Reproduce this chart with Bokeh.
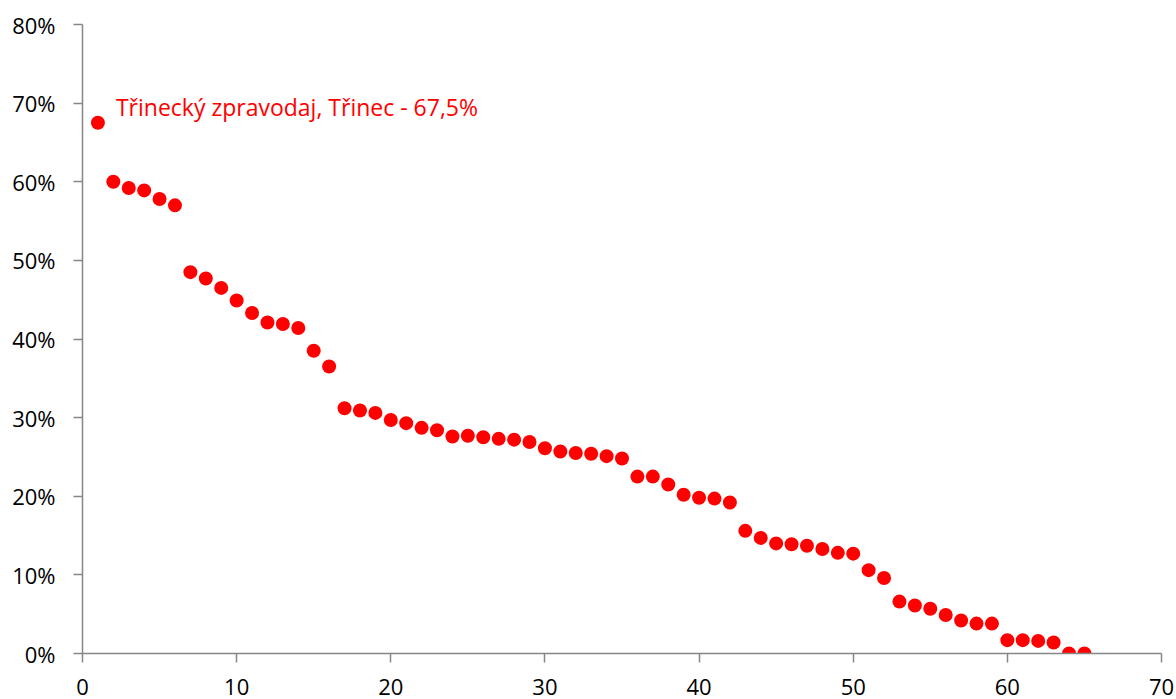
from bokeh.plotting import figure
from bokeh.models import ColumnDataSource, Range1d, NumeralTickFormatter, FixedTicker
from bokeh.core.properties import value
from bokeh.embed import file_html
from bokeh.resources import INLINE

# Data
rank = list(range(1, 66))
share = [
    67.5, 60.0, 59.2, 58.9, 57.8, 57.0, 48.5, 47.7, 46.5, 44.9,
    43.3, 42.1, 41.9, 41.4, 38.5, 36.5, 31.2, 30.9, 30.6, 29.7,
    29.3, 28.7, 28.4, 27.6, 27.7, 27.5, 27.3, 27.2, 26.9, 26.1,
    25.7, 25.5, 25.4, 25.1, 24.8, 22.5, 22.5, 21.5, 20.2, 19.8,
    19.7, 19.2, 15.6, 14.7, 14.0, 13.9, 13.7, 13.3, 12.8, 12.7,
    10.6, 9.6, 6.6, 6.1, 5.7, 4.9, 4.2, 3.8, 3.8, 1.7,
    1.7, 1.6, 1.4, 0.0, 0.0,
]
label_rank = [1]
label_share = [67.5]
label_text = ["Třinecký zpravodaj, Třinec - 67,5%"]
x_ticks = [0, 10, 20, 30, 40, 50, 60, 70]
y_ticks = [0, 0.1, 0.2, 0.3, 0.4, 0.5, 0.6, 0.7, 0.8]

src = ColumnDataSource(dict(x=rank, y=[v / 100 for v in share]))
lab = ColumnDataSource(dict(x=label_rank, y=[v / 100 for v in label_share], t=label_text))

p = figure(width=1176, height=699, output_backend="svg", toolbar_location=None,
           x_range=Range1d(0, 70), y_range=Range1d(0, 0.8),
           min_border_left=82, min_border_right=15, min_border_top=24, min_border_bottom=46)
p.outline_line_color = None
p.xgrid.visible = False
p.ygrid.visible = False
p.background_fill_color = "white"
p.border_fill_color = "white"

p.scatter("x", "y", source=src, size=14, fill_color="#FF0000", line_color=None)
p.text("x", "y", text="t", source=lab, x_offset=18, y_offset=-16,
       text_color="#FF0000", text_font=value("Open Sans"), text_font_size="23px",
       text_baseline="alphabetic", text_align="left")

gray = "#868686"
for ax in (p.xaxis[0], p.yaxis[0]):
    ax.axis_line_color = gray
    ax.axis_line_width = 1.5
    ax.major_tick_line_color = gray
    ax.major_tick_line_width = 1.5
    ax.minor_tick_line_color = None
    ax.major_tick_in = 0
    ax.major_label_text_font = "Open Sans"
    ax.major_label_text_font_size = "22px"
    ax.major_label_text_color = "#000000"

p.xaxis.ticker = FixedTicker(ticks=x_ticks)
p.yaxis.ticker = FixedTicker(ticks=y_ticks)
p.yaxis.formatter = NumeralTickFormatter(format="0%")
p.xaxis.major_tick_out = 9
p.yaxis.major_tick_out = 9
p.xaxis.major_label_standoff = 16
p.yaxis.major_label_standoff = 18

open("out.html", "w").write(file_html(p, INLINE))
